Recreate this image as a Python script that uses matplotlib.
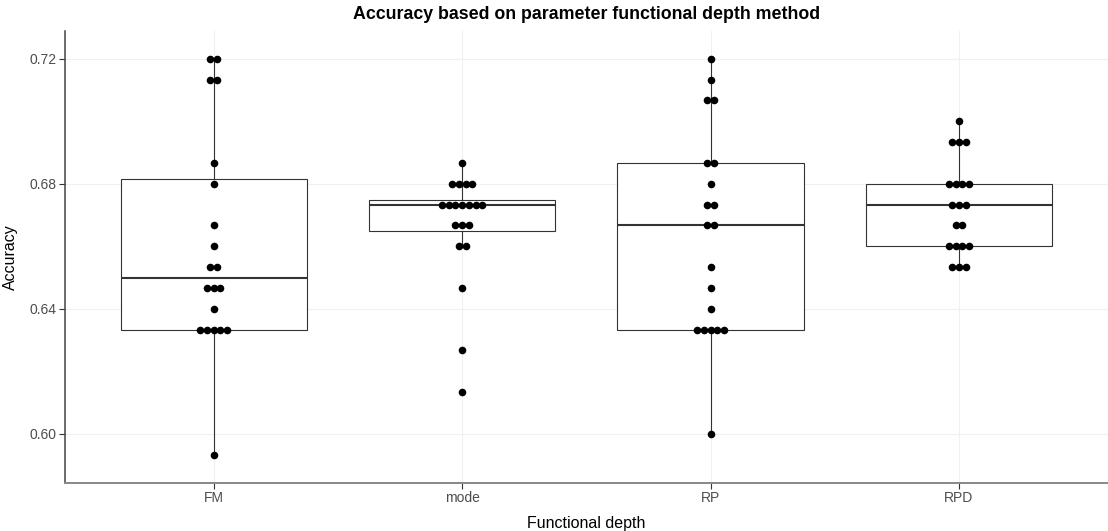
import matplotlib

matplotlib.use("Agg")
import matplotlib.pyplot as plt
import numpy as np

plt.rcParams["font.family"] = ["Liberation Sans", "DejaVu Sans"]

methods = ["FM", "mode", "RP", "RPD"]

acc_fm = [0.7200, 0.7200, 0.7133, 0.7133, 0.6867, 0.6800, 0.6667, 0.6600, 0.6533, 0.6533,
          0.6467, 0.6467, 0.6467, 0.6400, 0.6333, 0.6333, 0.6333, 0.6333, 0.6333, 0.5933]
acc_mode = [0.6867, 0.6800, 0.6800, 0.6800, 0.6800, 0.6733, 0.6733, 0.6733, 0.6733, 0.6733,
            0.6733, 0.6733, 0.6667, 0.6667, 0.6667, 0.6600, 0.6600, 0.6467, 0.6267, 0.6133]
acc_rp = [0.7200, 0.7133, 0.7067, 0.7067, 0.6867, 0.6867, 0.6800, 0.6733, 0.6733, 0.6667,
          0.6667, 0.6533, 0.6467, 0.6400, 0.6333, 0.6333, 0.6333, 0.6333, 0.6333, 0.6000]
acc_rpd = [0.7000, 0.6933, 0.6933, 0.6933, 0.6800, 0.6800, 0.6800, 0.6800, 0.6733, 0.6733,
           0.6733, 0.6667, 0.6667, 0.6600, 0.6600, 0.6600, 0.6600, 0.6533, 0.6533, 0.6533]

y_ticks = [0.60, 0.64, 0.68, 0.72]

groups = [acc_fm, acc_mode, acc_rp, acc_rpd]
pos = np.arange(len(methods))

fig = plt.figure(figsize=(11.08, 5.31), dpi=100)
ax = fig.add_axes([0.0584, 0.091, 0.9416, 0.8506])

ax.set_xlim(-0.6, len(methods) - 0.4)
ax.set_ylim(0.5844, 0.7289)

ax.set_axisbelow(True)
ax.grid(True, color="#f0f0f0", lw=0.8)

box_col = "#333333"
ax.boxplot(
    groups, positions=pos, widths=0.75, whis=1.5, showfliers=False, patch_artist=True,
    boxprops=dict(facecolor="white", edgecolor=box_col, lw=0.8),
    whiskerprops=dict(color=box_col, lw=0.8),
    capprops=dict(visible=False),
    medianprops=dict(color=box_col, lw=1.5),
)

# dotplot: equal values stacked side by side, centred on the category
step = 0.027
for x0, vals in zip(pos, groups):
    vals = np.round(vals, 4)
    for v in np.unique(vals):
        n = int((vals == v).sum())
        xs = x0 + (np.arange(n) - (n - 1) / 2) * step
        ax.scatter(xs, np.full(n, v), s=30, color="black", zorder=3, lw=0)

ax.set_xticks(pos)
ax.set_xticklabels(methods)
ax.set_yticks(y_ticks)
ax.set_yticklabels([f"{t:.2f}" for t in y_ticks])
ax.tick_params(labelsize=10, colors="#333333", labelcolor="#4d4d4d", length=4.3, width=0.8, pad=1.5)

for side in ["top", "right"]:
    ax.spines[side].set_visible(False)
ax.spines["left"].set_color("#444444")
ax.spines["bottom"].set_color("#888888")
ax.spines["left"].set_linewidth(1.1)
ax.spines["bottom"].set_linewidth(1.4)

ax.set_xlabel("Functional depth", fontsize=11.5, labelpad=8)
ax.set_ylabel("Accuracy", fontsize=11.5, labelpad=8)
ax.set_title("Accuracy based on parameter functional depth method",
             fontsize=12.8, fontweight="bold", pad=9)

fig.savefig("out.png", dpi=100)
